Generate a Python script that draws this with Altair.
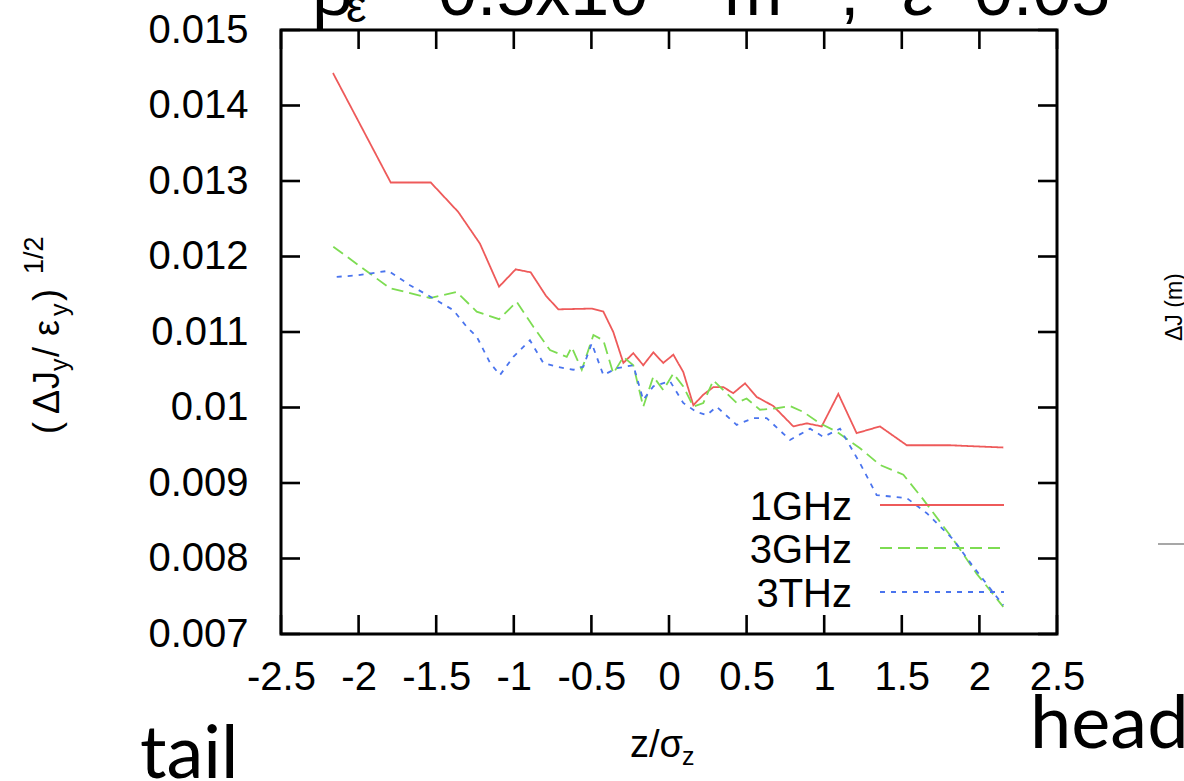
import altair as alt
import pandas as pd

# ---- data -------------------------------------------------------------
series_names = ["1GHz", "3GHz", "3THz"]
series_colors = ["#ee5a5a", "#7ddc52", "#4a74ee"]

z_1ghz = [-2.165, -1.793, -1.535, -1.358, -1.218, -1.095, -0.988, -0.891, -0.793,
          -0.713, -0.498, -0.423, -0.359, -0.294, -0.230, -0.166, -0.101, -0.037,
          0.028, 0.092, 0.157, 0.221, 0.286, 0.350, 0.414, 0.490, 0.565, 0.672,
          0.801, 0.887, 0.984, 1.091, 1.209, 1.359, 1.532, 1.810, 2.154]
v_1ghz = [0.01443, 0.01298, 0.01298, 0.01259, 0.01217, 0.01160, 0.01183, 0.01179, 0.01148,
          0.01130, 0.01131, 0.01127, 0.01100, 0.01059, 0.01072, 0.01056, 0.01073, 0.01059,
          0.01070, 0.01047, 0.01003, 0.01017, 0.01027, 0.01027, 0.01019, 0.01032, 0.01014, 0.01002,
          0.00975, 0.00979, 0.00975, 0.01018, 0.00966, 0.00975, 0.00950, 0.00950, 0.00947]

z_3ghz = [-2.163, -1.991, -1.798, -1.540, -1.368, -1.239, -1.095, -0.981, -0.874,
          -0.767, -0.659, -0.627, -0.562, -0.487, -0.423, -0.359, -0.294, -0.230,
          -0.166, -0.101, -0.037, 0.028, 0.092, 0.157, 0.221, 0.286, 0.350, 0.436,
          0.500, 0.586, 0.694, 0.780, 0.866, 0.973, 1.080, 1.231, 1.359, 1.510,
          1.639, 1.832, 1.982, 2.154]
v_3ghz = [0.01213, 0.01187, 0.01158, 0.01145, 0.01153, 0.01127, 0.01117, 0.01140, 0.01107,
          0.01076, 0.01067, 0.01080, 0.01050, 0.01096, 0.01089, 0.01045, 0.01067, 0.01056,
          0.01001, 0.01041, 0.01023, 0.01045, 0.01028, 0.01001, 0.01006, 0.01036, 0.01023, 0.01006,
          0.01012, 0.00997, 0.00999, 0.01002, 0.00994, 0.00979, 0.00968, 0.00946, 0.00924, 0.00911,
          0.00878, 0.00825, 0.00780, 0.00736]

z_3thz = [-2.141, -2.012, -1.809, -1.669, -1.540, -1.390, -1.304, -1.239, -1.153,
          -1.089, -1.003, -0.896, -0.810, -0.724, -0.617, -0.552, -0.498, -0.423,
          -0.337, -0.230, -0.166, -0.101, 0.006, 0.092, 0.178, 0.243, 0.307, 0.436,
          0.543, 0.629, 0.780, 0.909, 0.994, 1.102, 1.231, 1.338, 1.532, 1.661,
          1.832, 1.961, 2.154]
v_3thz = [0.01173, 0.01175, 0.01181, 0.01162, 0.01147, 0.01129, 0.01107, 0.01094, 0.01059,
          0.01043, 0.01067, 0.01089, 0.01059, 0.01054, 0.01050, 0.01054, 0.01085, 0.01043,
          0.01052, 0.01056, 0.01010, 0.01028, 0.01035, 0.01006, 0.00994, 0.00990, 0.01001, 0.00977,
          0.00986, 0.00986, 0.00957, 0.00972, 0.00961, 0.00972, 0.00926, 0.00884, 0.00880, 0.00860,
          0.00825, 0.00789, 0.00738]

x_ticks = [-2.5, -2, -1.5, -1, -0.5, 0, 0.5, 1, 1.5, 2, 2.5]
y_ticks = [0.007, 0.008, 0.009, 0.01, 0.011, 0.012, 0.013, 0.014, 0.015]

# ---- layout -----------------------------------------------------------
W, H = 776, 604
PAD_L, PAD_T, PAD_R, PAD_B = 281, 30, 127, 147
TICK = 19
FONT = "Liberation Sans"
SLIDE_FONT = "Lato"
DASHES = [[1, 0], [12, 6], [5, 6]]

frames = []
for name, zs, vs in [("1GHz", z_1ghz, v_1ghz), ("3GHz", z_3ghz, v_3ghz), ("3THz", z_3thz, v_3thz)]:
    frames.append(pd.DataFrame({"z": zs, "v": vs, "series": name}))
df = pd.concat(frames, ignore_index=True)

xscale = alt.Scale(domain=[-2.5, 2.5], nice=False, zero=False)
yscale = alt.Scale(domain=[0.007, 0.015], nice=False, zero=False)
color_scale = alt.Scale(domain=series_names, range=series_colors)
dash_scale = alt.Scale(domain=series_names, range=DASHES)

lines = alt.Chart(df).mark_line(strokeWidth=1.8).encode(
    x=alt.X("z:Q", scale=xscale,
            axis=alt.Axis(values=x_ticks, title=None, ticks=False, domain=False, grid=False,
                          labelFontSize=40, labelFont=FONT, labelColor="black",
                          labelPadding=23, labelExpr="'' + datum.value",
                          labelOverlap=False, labelFlush=False)),
    y=alt.Y("v:Q", scale=yscale,
            axis=alt.Axis(values=y_ticks, title=None, ticks=False, domain=False, grid=False,
                          labelFontSize=40, labelFont=FONT, labelColor="black",
                          labelPadding=33, labelExpr="'' + datum.value",
                          labelOverlap=False, labelFlush=False)),
    color=alt.Color("series:N", scale=color_scale, legend=None),
    strokeDash=alt.StrokeDash("series:N", scale=dash_scale, legend=None),
    order="z:Q",
)

# inward ticks on all four sides
ydf = pd.DataFrame({"v": y_ticks})
xdf = pd.DataFrame({"z": x_ticks})
tick_style = dict(color="black", strokeWidth=2.6)
ticks = [
    alt.Chart(ydf).mark_rule(**tick_style).encode(y=alt.Y("v:Q", scale=yscale), x=alt.value(0), x2=alt.value(TICK)),
    alt.Chart(ydf).mark_rule(**tick_style).encode(y=alt.Y("v:Q", scale=yscale), x=alt.value(W - TICK), x2=alt.value(W)),
    alt.Chart(xdf).mark_rule(**tick_style).encode(x=alt.X("z:Q", scale=xscale), y=alt.value(H), y2=alt.value(H - TICK)),
    alt.Chart(xdf).mark_rule(**tick_style).encode(x=alt.X("z:Q", scale=xscale), y=alt.value(0), y2=alt.value(TICK)),
]


def label(txt, px, py, size, angle=0, align="left", baseline="alphabetic", font=FONT, color="black"):
    """Free text placed in page pixel coordinates."""
    return alt.Chart(pd.DataFrame({"t": [txt]})).mark_text(
        align=align, baseline=baseline, fontSize=size, angle=angle, font=font, color=color
    ).encode(x=alt.value(px - PAD_L), y=alt.value(py - PAD_T), text="t:N")


# legend: labels on the left, line samples on the right
legend_rows = [505, 548, 592]
legend = []
for name, col, dash, yy in zip(series_names, series_colors, DASHES, legend_rows):
    legend.append(label(name, 852, yy + 3, 40, align="right", baseline="middle"))
    legend.append(
        alt.Chart(pd.DataFrame({"s": [name]})).mark_rule(color=col, strokeWidth=1.8, strokeDash=dash).encode(
            x=alt.value(880 - PAD_L), x2=alt.value(1004 - PAD_L), y=alt.value(yy - PAD_T)
        )
    )

# y axis title: (ΔJ_y/ε_y)^(1/2), rotated
ytitle = [
    label("(", 59, 434, 36, angle=270),
    label("Δ", 59, 414, 36, angle=270),
    label("J", 59, 389, 36, angle=270),
    label("y", 68, 371, 25, angle=270),
    label("/", 59, 357, 36, angle=270),
    label("ε", 59, 336, 36, angle=270),
    label("y", 68, 316, 25, angle=270),
    label(")", 59, 301, 36, angle=270),
    label("1/2", 43, 274, 27, angle=270),
]

# x axis title: z/σ_z
xtitle = [
    label("z/σ", 630, 757, 38),
    label("z", 682, 765, 25),
]

# slide annotations around the plot
extras = [
    label("tail", 140, 778, 74, font=SLIDE_FONT),
    label("head", 1030, 748, 74, font=SLIDE_FONT),
    label("β", 312, 15, 70),
    label("ε", 346, 22, 46),
    label("0.5x10", 438, 15, 70),
    label("-3", 652, -20, 44),
    label("m", 724, 15, 70),
    label("-1", 790, -20, 44),
    label(";", 840, 15, 70),
    label("ε", 902, 15, 70),
    label("0.05", 974, 15, 70),
    label("ΔJ (m)", 1182, 341, 23, angle=270),
    alt.Chart(pd.DataFrame({"s": [0]})).mark_rule(color="#8a8a8a", strokeWidth=1.5).encode(
        x=alt.value(1158 - PAD_L), x2=alt.value(1184 - PAD_L), y=alt.value(544 - PAD_T)
    ),
]

chart = alt.layer(lines, *ticks, *legend, *ytitle, *xtitle, *extras).properties(
    width=W,
    height=H,
    autosize=alt.AutoSizeParams(type="none"),
    padding={"left": PAD_L, "top": PAD_T, "right": PAD_R, "bottom": PAD_B},
    background="white",
).configure_view(stroke="black", strokeWidth=3)

chart.save("out.html", embed_options={"renderer": "svg", "actions": False})
